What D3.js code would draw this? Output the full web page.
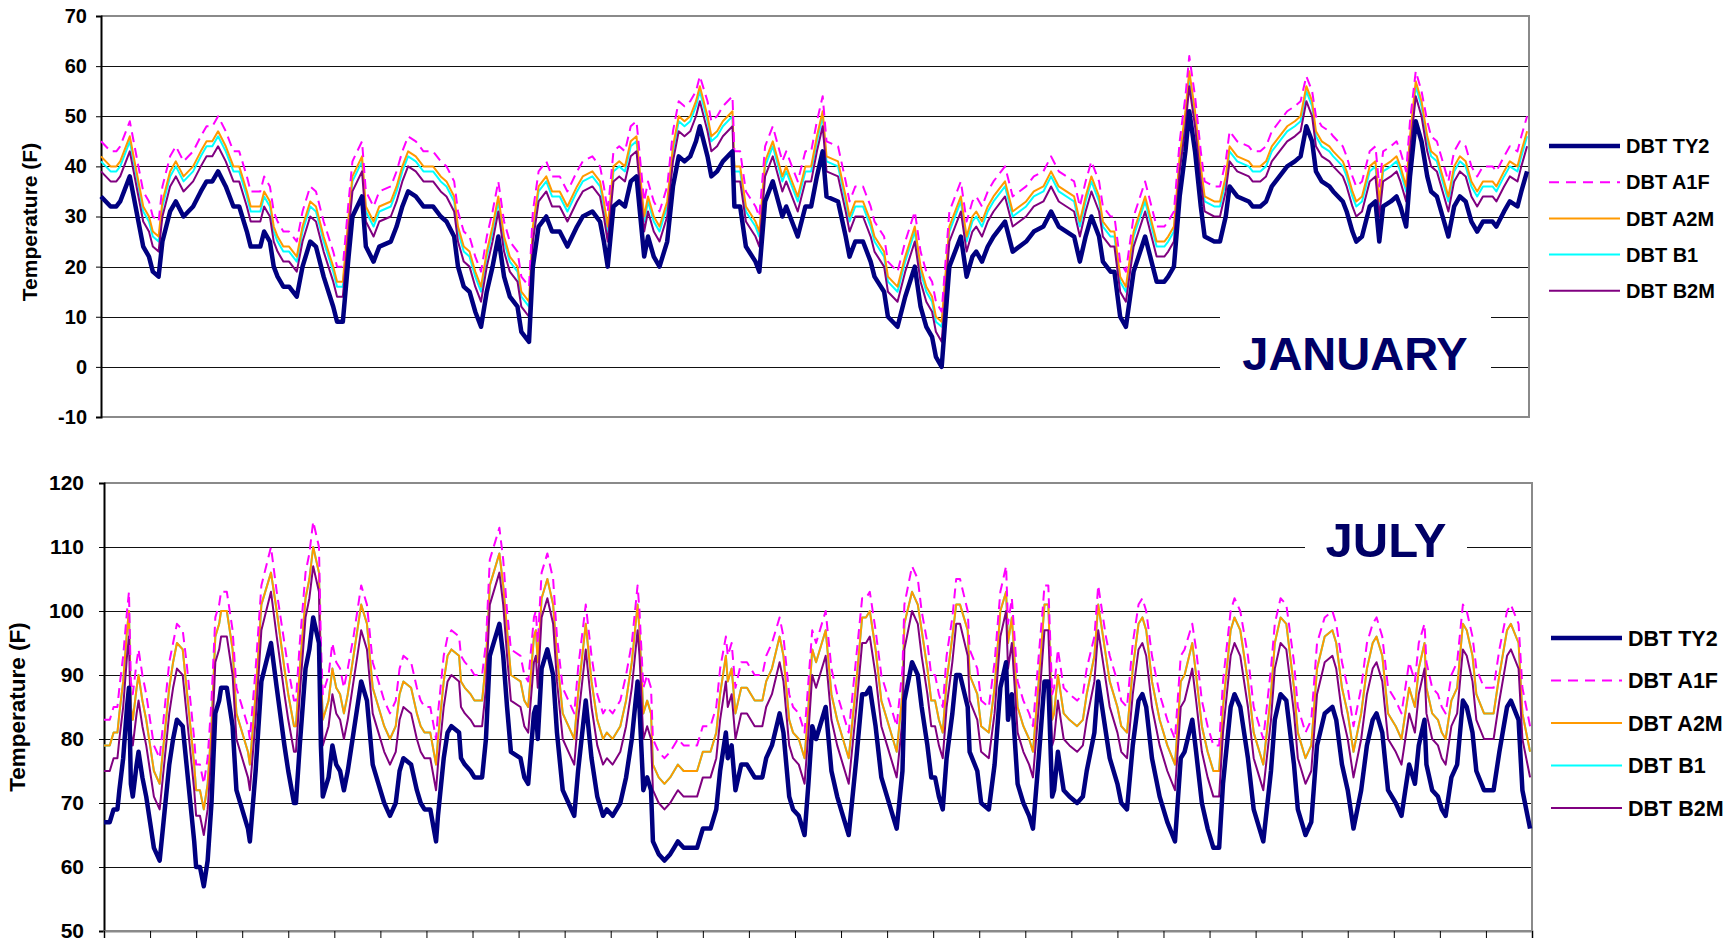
<!DOCTYPE html>
<html>
<head>
<meta charset="utf-8">
<script src="https://cdnjs.cloudflare.com/ajax/libs/d3/7.8.5/d3.min.js"></script>
<style>
  body { margin: 0; background: #fff; }
  svg text { font-family: Arial, "Liberation Sans", sans-serif; font-weight: bold; }
</style>
</head>
<body>
<svg id="chart" width="1730" height="942"></svg>
<script>
/* ---------- January : hour of month and dry bulb temperature (F) ---------- */
var janHours = [0,5,8,10,15,17,19,22,25,27,30,32,36,39,43,48,52,55,58,61,65,69,72,76,78,83,85,88,90,92,95,98,102,105,109,112,116,121,123,126,129,131,136,138,142,145,151,154,157,160,164,168,173,177,180,184,186,189,192,195,198,201,204,207,210,213,217,219,223,225,228,232,235,239,243,248,251,256,260,262,264,267,270,273,276,279,281,283,285,288,291,295,298,301,304,307,310,312,316,318,321,324,329,330,333,336,341,343,346,350,355,357,361,363,367,370,373,376,378,384,388,390,393,397,401,403,408,410,415,419,424,427,430,433,435,438,442,448,451,454,456,459,462,465,471,475,482,486,491,495,499,507,510,513,516,520,522,526,528,531,534,538,544,548,550,554,556,559,562,565,567,570,573,575,580,583,586,588,592,598,600,604,607,610,614,618,622,625,628,631,633,636,640,642,647,649,652,654,657,661,664,666,668,672,675,677,680,682,685,688,691,693,696,699,702,705,708,711,714,717,720,725,727,731,734,738,740,743];
var janTY2 = [34,32,32,33,38,34,30,24,22,19,18,25,31,33,30,32,35,37,37,39,36,32,32,27,24,24,27,25,20,18,16,16,14,20,25,24,18,12,9,9,22,30,34,24,21,24,25,28,32,35,34,32,32,30,29,26,20,16,15,11,8,15,20,26,18,14,12,7,5,20,28,30,27,27,24,28,30,31,29,25,20,32,33,32,37,38,30,22,26,22,20,25,36,42,41,42,45,48,42,38,39,41,43,32,32,24,21,19,33,37,30,32,28,26,32,32,38,43,34,33,26,22,25,25,21,18,15,10,8,14,20,12,8,6,2,0,20,26,18,22,23,21,24,26,29,23,25,27,28,31,28,26,21,26,30,26,21,19,19,10,8,19,26,20,17,17,18,20,34,43,51,43,32,26,25,25,30,36,34,33,32,32,33,36,38,40,41,42,48,45,39,37,36,35,33,31,27,25,26,32,33,25,32,33,34,32,28,38,49,45,38,35,34,30,26,32,34,33,29,27,29,29,28,31,33,32,35,39];
var janA1F = [45,43,43,44,49,45,41,35,33,30,29,36,42,44,41,43,46,48,48,50,47,43,43,38,35,35,38,36,31,29,27,27,25,31,36,35,29,23,20,20,33,41,45,35,32,35,36,39,43,46,45,43,43,41,40,37,31,27,26,22,19,26,31,37,29,25,23,18,16,31,39,41,38,38,35,39,41,42,40,36,31,43,44,43,48,49,41,33,37,33,31,36,47,53,52,53,55,58,53,49,50,52,54,43,43,35,32,30,44,48,41,43,39,37,43,43,49,54,45,44,37,33,36,36,32,29,26,21,19,25,31,23,19,17,13,11,31,37,29,33,34,32,35,37,40,34,36,38,39,42,39,37,32,37,41,37,32,30,30,21,19,30,37,31,28,28,29,31,45,54,62,54,43,37,36,36,41,47,45,44,43,43,44,47,49,51,52,53,58,55,50,48,47,46,44,42,38,36,37,43,44,36,43,44,45,43,39,49,59,55,49,46,45,41,37,43,45,44,40,38,40,40,39,42,44,43,46,50];
var janA2M = [42,40,40,41,46,42,38,32,30,27,26,33,39,41,38,40,43,45,45,47,44,40,40,35,32,32,35,33,28,26,24,24,22,28,33,32,26,20,17,17,30,38,42,32,29,32,33,36,40,43,42,40,40,38,37,34,28,24,23,19,16,23,28,34,26,22,20,15,13,28,36,38,35,35,32,36,38,39,37,33,28,40,41,40,45,46,38,30,34,30,28,33,44,50,49,50,53,56,50,46,47,49,51,40,40,32,29,27,41,45,38,40,36,34,40,40,46,51,42,41,34,30,33,33,29,26,23,18,16,22,28,20,16,14,10,9,28,34,26,30,31,29,32,34,37,31,33,35,36,39,36,34,29,34,38,34,29,27,27,18,16,27,34,28,25,25,26,28,42,51,59,51,40,34,33,33,38,44,42,41,40,40,41,44,46,48,49,50,56,53,47,45,44,43,41,39,35,33,34,40,41,33,40,41,42,40,36,46,57,53,46,43,42,38,34,40,42,41,37,35,37,37,36,39,41,40,43,47];
var janB1 = [41,39,39,40,45,41,37,31,29,26,25,32,38,40,37,39,42,44,44,46,43,39,39,34,31,31,34,32,27,25,23,23,21,27,32,31,25,19,16,16,29,37,41,31,28,31,32,35,39,42,41,39,39,37,36,33,27,23,22,18,15,22,27,33,25,21,19,14,12,27,35,37,34,34,31,35,37,38,36,32,27,39,40,39,44,45,37,29,33,29,27,32,43,49,48,49,52,55,49,45,46,48,50,39,39,31,28,26,40,44,37,39,35,33,39,39,45,50,41,40,33,29,32,32,28,25,22,17,15,21,27,19,15,13,9,8,27,33,25,29,30,28,31,33,36,30,32,34,35,38,35,33,28,33,37,33,28,26,26,17,15,26,33,27,24,24,25,27,41,50,58,50,39,33,32,32,37,43,41,40,39,39,40,43,45,47,48,49,55,52,46,44,43,42,40,38,34,32,33,39,40,32,39,40,41,39,35,45,56,52,45,42,41,37,33,39,41,40,36,34,36,36,35,38,40,39,42,46];
var janB2M = [39,37,37,38,43,39,35,29,27,24,23,30,36,38,35,37,40,42,42,44,41,37,37,32,29,29,32,30,25,23,21,21,19,25,30,29,23,17,14,14,27,35,39,29,26,29,30,33,37,40,39,37,37,35,34,31,25,21,20,16,13,20,25,31,23,19,17,12,10,25,33,35,32,32,29,33,35,36,34,30,25,37,38,37,42,43,35,27,31,27,25,30,41,47,46,47,50,53,47,43,44,46,48,37,37,29,26,24,38,42,35,37,33,31,37,37,43,48,39,38,31,27,30,30,26,23,20,15,13,19,25,17,13,11,7,5,25,31,23,27,28,26,29,31,34,28,30,32,33,36,33,31,26,31,35,31,26,24,24,15,13,24,31,25,22,22,23,25,39,48,56,48,37,31,30,30,35,41,39,38,37,37,38,41,43,45,46,47,53,50,44,42,41,40,38,36,32,30,31,37,38,30,37,38,39,37,33,43,54,50,43,40,39,35,31,37,39,38,34,32,34,34,33,36,38,37,40,44];

/* ---------- July ---------- */
var julHours = [0,3,5,7,8,10,12,13,14,15,17,18,20,22,24,26,29,31,34,36,38,41,43,45,47,48,50,52,54,56,58,60,61,64,67,69,73,75,76,79,82,87,90,94,96,99,100,102,105,107,109,112,113,114,117,119,121,123,125,127,130,132,134,137,140,143,146,149,152,154,156,160,163,165,167,170,173,174,177,179,181,185,186,188,191,193,197,199,201,204,206,208,210,212,217,219,221,224,225,226,228,231,234,236,239,242,245,247,251,254,257,260,262,265,269,272,275,278,279,281,283,285,286,289,292,295,297,299,302,309,312,316,319,321,324,325,327,329,332,335,339,343,345,348,352,354,357,359,362,365,367,369,371,376,379,382,385,388,392,395,397,399,402,405,408,411,413,416,417,421,424,426,429,431,433,435,437,439,442,444,446,450,451,455,457,461,464,467,470,471,473,476,479,482,484,487,489,490,492,494,495,497,500,503,507,510,512,516,518,520,522,524,528,530,533,536,539,541,543,546,550,554,558,561,563,567,569,572,575,578,581,583,587,589,592,596,599,602,604,608,610,613,616,620,622,624,626,629,632,636,640,642,645,648,651,655,658,661,663,666,669,673,676,678,680,681,683,685,688,689,692,695,697,699,702,705,708,710,713,715,719,724,727,731,733,737,739,743];
var julTY2 = [67,67,69,69,72,77,85,88,73,71,76,78,74,71,67,63,61,67,76,80,83,82,76,70,64,60,60,57,61,70,84,86,88,88,82,72,68,66,64,75,89,95,88,79,75,70,70,79,91,94,99,95,79,71,74,79,76,75,72,75,81,85,89,86,76,73,70,68,70,75,77,76,72,70,69,69,64,68,77,81,82,81,77,76,75,74,74,80,93,96,98,93,85,78,77,74,73,84,85,80,91,94,90,81,72,70,68,75,86,77,71,68,69,68,70,74,80,89,85,72,74,72,64,62,61,62,63,64,63,63,66,66,69,75,81,77,79,72,76,76,74,74,77,79,84,81,71,69,68,65,73,82,80,85,75,71,68,65,77,87,87,88,82,74,71,68,66,75,86,92,90,85,79,74,74,71,69,77,84,90,90,85,78,75,70,69,76,88,92,83,87,73,70,68,66,77,85,89,89,71,72,78,72,71,70,71,75,81,89,85,81,77,73,70,69,79,86,87,85,77,71,67,64,77,78,83,78,70,66,63,63,73,85,87,85,77,69,66,64,75,83,87,86,76,69,67,65,67,79,84,85,83,76,72,66,72,79,83,84,81,72,70,68,72,76,75,73,79,83,76,72,71,69,68,74,76,86,85,81,75,72,72,78,85,86,83,72,66];
var julA1F = [83,83,85,85,88,93,100,103,89,87,92,94,90,87,83,79,77,83,92,95,98,97,92,86,80,76,76,73,77,86,99,101,103,103,97,88,84,82,80,91,104,110,103,95,91,86,86,95,106,109,114,110,95,87,90,95,92,91,88,91,96,100,104,101,92,89,86,84,86,91,93,92,88,86,85,85,80,84,93,96,97,96,93,92,91,90,90,95,108,111,113,108,100,94,93,90,89,99,100,95,106,109,105,96,88,86,84,91,101,93,87,84,85,84,86,90,95,104,100,88,90,88,80,78,77,78,79,80,79,79,82,82,85,91,96,93,95,88,92,92,90,90,93,95,99,96,87,85,84,81,89,97,95,100,91,87,84,81,93,102,102,103,97,90,87,84,82,91,101,107,105,100,95,90,90,87,85,93,99,105,105,100,94,91,86,85,92,103,107,98,102,89,86,84,82,93,100,104,104,87,88,94,88,87,86,87,91,96,104,100,96,93,89,86,85,95,101,102,100,93,87,83,80,93,94,98,94,86,82,79,79,89,100,102,100,93,85,82,80,91,98,102,101,92,85,83,81,83,95,99,100,98,92,88,82,88,95,98,99,96,88,86,84,88,92,91,89,95,98,92,88,87,85,84,90,92,101,100,96,91,88,88,94,100,101,98,88,82];
var julA2M = [79,79,81,81,84,89,97,100,85,83,88,90,86,83,79,75,73,79,88,92,95,94,88,82,76,72,72,69,73,82,96,98,100,100,94,84,80,78,76,87,101,106,100,91,87,82,82,91,102,105,110,106,91,83,86,91,88,87,84,87,93,97,101,98,88,85,82,80,82,87,89,88,84,82,81,81,76,80,89,93,94,93,89,88,87,86,86,92,104,107,109,104,97,90,89,86,85,96,97,92,102,105,101,93,84,82,80,87,98,89,83,80,81,80,82,86,92,101,97,84,86,84,76,74,73,74,75,76,75,75,78,78,81,87,93,89,91,84,88,88,86,86,89,91,96,93,83,81,80,77,85,94,92,97,87,83,80,77,89,99,99,100,94,86,83,80,78,87,98,103,101,97,91,86,86,83,81,89,96,101,101,97,90,87,82,81,88,100,103,95,99,85,82,80,78,89,97,101,101,83,84,90,84,83,82,83,87,93,101,97,93,89,85,82,81,91,98,99,97,89,83,79,76,89,90,95,90,82,78,75,75,85,97,99,97,89,81,78,76,87,95,99,98,88,81,79,77,79,91,96,97,95,88,84,78,84,91,95,96,93,84,82,80,84,88,87,85,91,95,88,84,83,81,80,86,88,98,97,93,87,84,84,90,97,98,95,84,78];
var julB1 = [79,79,81,81,84,89,97,100,85,83,88,90,86,83,79,75,73,79,88,92,95,94,88,82,76,72,72,69,73,82,96,98,100,100,94,84,80,78,76,87,101,106,100,91,87,82,82,91,102,105,110,106,91,83,86,91,88,87,84,87,93,97,101,98,88,85,82,80,82,87,89,88,84,82,81,81,76,80,89,93,94,93,89,88,87,86,86,92,104,107,109,104,97,90,89,86,85,96,97,92,102,105,101,93,84,82,80,87,98,89,83,80,81,80,82,86,92,101,97,84,86,84,76,74,73,74,75,76,75,75,78,78,81,87,93,89,91,84,88,88,86,86,89,91,96,93,83,81,80,77,85,94,92,97,87,83,80,77,89,99,99,100,94,86,83,80,78,87,98,103,101,97,91,86,86,83,81,89,96,101,101,97,90,87,82,81,88,100,103,95,99,85,82,80,78,89,97,101,101,83,84,90,84,83,82,83,87,93,101,97,93,89,85,82,81,91,98,99,97,89,83,79,76,89,90,95,90,82,78,75,75,85,97,99,97,89,81,78,76,87,95,99,98,88,81,79,77,79,91,96,97,95,88,84,78,84,91,95,96,93,84,82,80,84,88,87,85,91,95,88,84,83,81,80,86,88,98,97,93,87,84,84,90,97,98,95,84,78];
var julB2M = [75,75,77,77,80,85,93,96,81,79,84,86,82,79,75,71,69,75,84,88,91,90,84,78,72,68,68,65,69,78,92,94,96,96,90,80,76,74,72,83,97,103,96,87,83,78,78,87,99,102,107,103,87,79,82,87,84,83,80,83,89,93,97,94,84,81,78,76,78,83,85,84,80,78,77,77,72,76,85,89,90,89,85,84,83,82,82,88,101,104,106,101,93,86,85,82,81,92,93,88,99,102,98,89,80,78,76,83,94,85,79,76,77,76,78,82,88,97,93,80,82,80,72,70,69,70,71,72,71,71,74,74,77,83,89,85,87,80,84,84,82,82,85,87,92,89,79,77,76,73,81,90,88,93,83,79,76,73,85,95,95,96,90,82,79,76,74,83,94,100,98,93,87,82,82,79,77,85,92,98,98,93,86,83,78,77,84,96,100,91,95,81,78,76,74,85,93,97,97,79,80,86,80,79,78,79,83,89,97,93,89,85,81,78,77,87,94,95,93,85,79,75,72,85,86,91,86,78,74,71,71,81,93,95,93,85,77,74,72,83,91,95,94,84,77,75,73,75,87,92,93,91,84,80,74,80,87,91,92,89,80,78,76,80,84,83,81,87,91,84,80,79,77,76,82,84,94,93,89,83,80,80,86,93,94,91,80,74];

/* ---------- axis ticks, names ---------- */
var janTicks = [-10,0,10,20,30,40,50,60,70];
var julTicks = [50,60,70,80,90,100,110,120];
var seriesNames = ["DBT TY2","DBT A1F","DBT A2M","DBT B1","DBT B2M"];
var seriesColors = ["#000080","#ff00ff","#ff9900","#00ffff","#800080"];

var svg = d3.select("#chart");

function drawPanel(p) {
  var x = d3.scaleLinear().domain([0, 744]).range([p.left, p.right]);
  var y = d3.scaleLinear().domain([p.ticks[0], p.ticks[p.ticks.length - 1]]).range([p.bottom, p.top]);
  var g = svg.append("g");

  // horizontal grid lines
  g.append("g")
      .attr("transform", "translate(" + p.left + ",0)")
      .call(d3.axisLeft(y).tickValues(p.ticks.slice(1, -1)).tickSize(-(p.right - p.left)).tickFormat(""))
      .call(function(s) { s.select(".domain").remove(); })
    .selectAll("line")
      .attr("stroke", "#111")
      .attr("stroke-width", 1)
      .attr("shape-rendering", "crispEdges");

  // plot area border (top, right, bottom)
  g.append("path")
      .attr("d", "M" + p.left + "," + p.top + "H" + p.right + "V" + p.bottom + "H" + p.left)
      .attr("fill", "none")
      .attr("stroke", "#8a8a8a")
      .attr("stroke-width", 2);

  // white box behind the month label
  g.append("rect")
      .attr("x", p.label.box[0]).attr("y", p.label.box[1])
      .attr("width", p.label.box[2]).attr("height", p.label.box[3])
      .attr("fill", "#fff");
  g.append("text")
      .attr("x", p.label.x).attr("y", p.label.y)
      .attr("text-anchor", "middle")
      .style("font-size", p.label.size + "px")
      .attr("fill", "#000066")
      .text(p.label.text);

  // y axis with tick labels (plain hyphen for negatives, as in the original)
  var yAxis = g.append("g")
      .attr("transform", "translate(" + p.left + ",0)")
      .call(d3.axisLeft(y).tickValues(p.ticks).tickSize(5).tickPadding(p.pad)
        .tickFormat(function(d) { return String(d); }));
  yAxis.select(".domain").attr("stroke", "#000").attr("stroke-width", 2);
  yAxis.selectAll("line").attr("stroke", "#000");
  yAxis.selectAll("text")
      .style("font-size", p.tickFont + "px")
      .style("font-family", "Arial, 'Liberation Sans', sans-serif")
      .style("font-weight", "bold")
      .attr("fill", "#000");

  if (p.dayTicks) {
    var xAxis = g.append("g")
        .attr("transform", "translate(0," + p.bottom + ")")
        .call(d3.axisBottom(x).tickValues(d3.range(0, 745, 24)).tickSize(7).tickFormat(""));
    xAxis.select(".domain").attr("stroke", "#8a8a8a").attr("stroke-width", 2);
    xAxis.selectAll("line").attr("stroke", "#000");
  }

  // axis title
  g.append("text")
      .attr("transform", "translate(" + p.title[0] + "," + p.title[1] + ") rotate(-90)")
      .attr("text-anchor", "middle")
      .style("font-size", p.title[2] + "px")
      .text("Temperature (F)");

  // series, drawn B1 first so A2M sits on top of it
  var order = [3, 2, 4, 1, 0];
  var widths = [4.5, 2, 2, 2, 2];
  var line = d3.line()
      .x(function(d) { return x(d[0]); })
      .y(function(d) { return y(d[1]); });
  order.forEach(function(i) {
    var pts = p.hours.map(function(h, k) { return [h, p.series[i][k]]; });
    g.append("path")
        .datum(pts)
        .attr("d", line)
        .attr("fill", "none")
        .attr("stroke", seriesColors[i])
        .attr("stroke-width", widths[i])
        .attr("stroke-linejoin", "round")
        .attr("stroke-dasharray", i == 1 ? "10,6" : null);
  });

  // legend
  seriesNames.forEach(function(name, i) {
    var ly = p.legend.y + i * p.legend.dy;
    g.append("line")
        .attr("x1", p.legend.x).attr("x2", p.legend.x + 71)
        .attr("y1", ly).attr("y2", ly)
        .attr("stroke", seriesColors[i])
        .attr("stroke-width", widths[i])
        .attr("stroke-dasharray", i == 1 ? "10,7" : null);
    g.append("text")
        .attr("x", p.legend.x + 77).attr("y", ly)
        .attr("dy", "0.36em")
        .style("font-size", p.legend.size + "px")
        .text(name);
  });
}

drawPanel({
  left: 101, right: 1529, top: 16, bottom: 417,
  ticks: janTicks, tickFont: 20, pad: 9, dayTicks: false,
  hours: janHours, series: [janTY2, janA1F, janA2M, janB1, janB2M],
  label: { text: "JANUARY", x: 1355, y: 370, size: 47, box: [1220, 290, 271, 105] },
  legend: { x: 1549, y: 146, dy: 36.2, size: 20 },
  title: [37, 222, 21]
});

drawPanel({
  left: 104, right: 1532, top: 483, bottom: 931,
  ticks: julTicks, tickFont: 21, pad: 15, dayTicks: true,
  hours: julHours, series: [julTY2, julA1F, julA2M, julB1, julB2M],
  label: { text: "JULY", x: 1386, y: 557, size: 49, box: [1305, 505, 162, 75] },
  legend: { x: 1551, y: 638, dy: 42.5, size: 21.5 },
  title: [25, 707, 22.5]
});
</script>
</body>
</html>
